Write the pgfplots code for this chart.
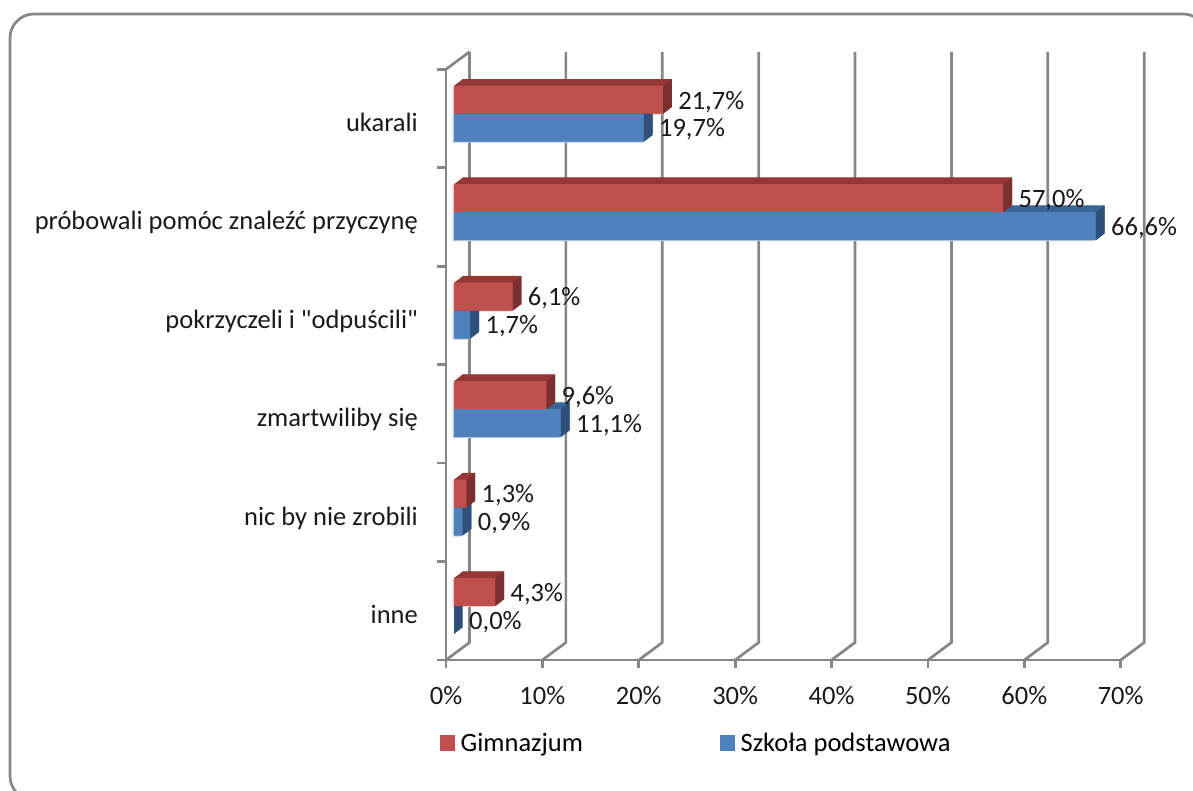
\documentclass[border=0pt]{standalone}
\usepackage{pgfplots}
\usepackage{pgfplotstable}
\pgfplotsset{compat=1.18}
\usepackage{fontspec}
\newfontfamily\chartfont{Carlito}
\newcommand{\chartsize}{\chartfont\fontsize{26.5}{30}\selectfont}
\definecolor{framegray}{HTML}{868686}
\definecolor{redfront}{HTML}{C0504D}
\definecolor{redtop}{HTML}{943735}
\definecolor{redside}{HTML}{7A302E}
\definecolor{redfringe}{HTML}{EBC8C7}
\definecolor{bluefront}{HTML}{4F81BD}
\definecolor{bluetop}{HTML}{3B6597}
\definecolor{blueside}{HTML}{2F5078}
\definecolor{bluefringe}{HTML}{B9CDE5}

% side face of a bar, drawn at the end of the bar (sizes in px = pt)
\pgfdeclareplotmark{barside}{%
  \pgfpathmoveto{\pgfqpoint{0pt}{-14pt}}%
  \pgfpathlineto{\pgfqpoint{8.7pt}{-7.3pt}}%
  \pgfpathlineto{\pgfqpoint{8.7pt}{20.7pt}}%
  \pgfpathlineto{\pgfqpoint{0pt}{14pt}}%
  \pgfpathclose\pgfusepathqfill}

\pgfplotstableread{
pos gimnazjum szkola
5.5 21.7 19.7
4.5 57.0 66.6
3.5 6.1 1.7
2.5 9.6 11.1
1.5 1.3 0.9
0.5 4.3 0.0
}\answers

\pgfplotsset{
  barbase/.style={xbar, bar width=28pt, draw=none, forget plot},
  redbar/.style={barbase, bar shift=14pt},
  bluebar/.style={barbase, bar shift=-14pt},
}

% light edge left of and below the front face
\newcommand{\barfringe}[3]{%
  \addplot[#3, fill=#2fringe, xshift=6.5pt, yshift=3.8pt] table[x=#1, y=pos] {\answers};
}
% one whole 3D bar series: #1 column, #2 colour prefix, #3 bar style, #4 shift of the side mark
\newcommand{\barseries}[4]{%
  \pgfplotsinvokeforeach{1,...,18}{%
    \addplot[#3, fill=#2top, xshift={(8+0.483*##1)*1pt}, yshift={(4.8+0.372*##1)*1pt}] table[x=#1, y=pos] {\answers};
  }
  \addplot[#3, fill=#2front, xshift=8pt, yshift=4.8pt] table[x=#1, y=pos] {\answers};
  \addplot[only marks, forget plot, mark=barside, #2side, xshift=8pt, yshift=#4] table[x=#1, y=pos] {\answers};
}

\begin{document}
\begin{tikzpicture}[x=1pt, y=1pt]
\path[use as bounding box] (0,0) rectangle (1193,790);
\begin{scope}
  \clip (0,0) rectangle (1193,790);
  \draw[framegray, line width=2.7pt, rounded corners=24pt] (10,-10) rectangle (1207,776);
\end{scope}
\begin{axis}[
  at={(446pt,130pt)}, anchor=south west,
  scale only axis, width=674.7pt, height=590.7pt,
  xmin=0, xmax=70, ymin=0, ymax=6,
  clip=false, clip mode=individual,
  axis x line*=bottom, axis y line*=left,
  axis line style={framegray, line width=2.7pt},
  tick align=outside,
  major tick length=8pt, minor tick length=9pt,
  xtick={0,10,...,70},
  xticklabels={0\%,10\%,20\%,30\%,40\%,50\%,60\%,70\%},
  ytick={0.5,1.5,...,5.5},
  yticklabels={inne,nic by nie zrobili,zmartwiliby się,pokrzyczeli i "odpuścili",próbowali pomóc znaleźć przyczynę,ukarali},
  minor ytick={0,1,...,6},
  xtick style={framegray, line width=2.7pt},
  major y tick style={draw=none},
  minor y tick style={draw=framegray, line width=2.7pt},
  tick label style={font=\chartsize, text=black!90},
  xticklabel style={inner sep=0pt, yshift=-18pt},
  yticklabel style={inner sep=0pt, anchor=base east, xshift=-20pt, yshift=-13pt},
  legend style={at={(-0.009,-0.1405)}, anchor=west, draw=none, fill=none, inner sep=0pt,
    font=\chartsize, legend columns=2,
    /tikz/every even column/.append style={column sep=135pt}},
  legend cell align=left,
  legend image code/.code={\fill[#1] (0pt,-8pt) rectangle (15pt,8pt); \path (18.5pt,0pt);},
  every node near coord/.append style={font=\chartsize, text=black!90, anchor=west, inner sep=0pt},
  /pgf/number format/.cd, use comma, fixed, fixed zerofill, precision=1, assume math mode=true,
]
% back wall and floor
\pgfplotsinvokeforeach{0,10,...,70}{%
  \draw[framegray, line width=2.7pt] (axis cs:#1,0) -- ++(23.5pt,17.5pt) -- ++(0,590.7pt);
}
\draw[framegray, line width=2.7pt] (axis cs:0,6) -- ++(23.5pt,17.5pt);

\barfringe{gimnazjum}{red}{redbar}
\barfringe{szkola}{blue}{bluebar}
\barseries{szkola}{blue}{bluebar}{-9.2pt}
\barseries{gimnazjum}{red}{redbar}{18.8pt}

% value labels on top of all faces
\addplot[bluebar, fill=none, point meta=x, nodes near coords={\pgfmathprintnumber{\pgfplotspointmeta}\%}, xshift=23pt, yshift=-11pt] table[x=szkola, y=pos] {\answers};
\addplot[redbar, fill=none, point meta=x, nodes near coords={\pgfmathprintnumber{\pgfplotspointmeta}\%}, xshift=23pt, yshift=16.8pt] table[x=gimnazjum, y=pos] {\answers};

\addlegendimage{fill=redfront, draw=none}
\addlegendentry{Gimnazjum}
\addlegendimage{fill=bluefront, draw=none}
\addlegendentry{Szkoła podstawowa}
\end{axis}
\end{tikzpicture}
\end{document}
